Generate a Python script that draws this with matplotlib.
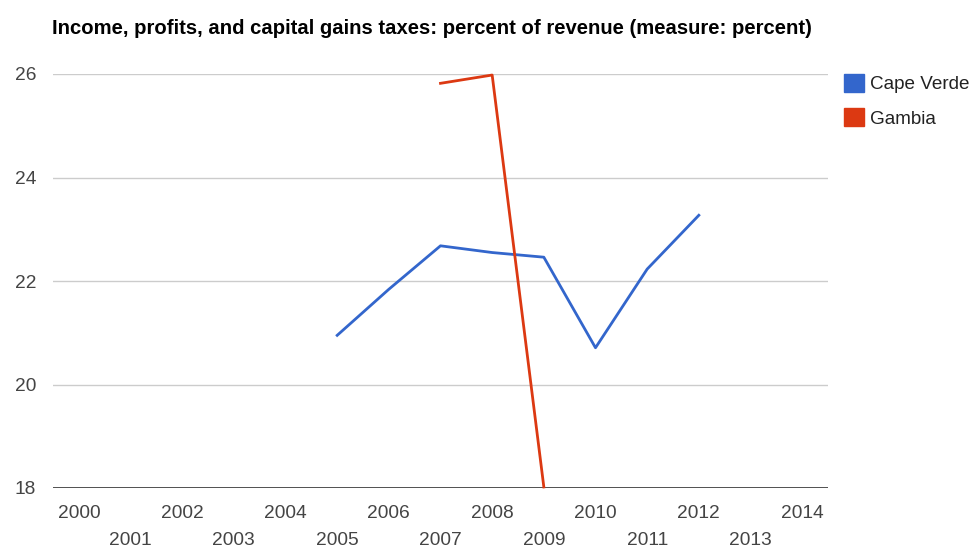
import numpy as np
import matplotlib
matplotlib.use('Agg')
import matplotlib.pyplot as plt
from matplotlib.patches import Patch

plt.rcParams['font.family'] = ['Liberation Sans', 'DejaVu Sans']

years = list(range(2000, 2015))
cape_verde_years = [2005, 2006, 2007, 2008, 2009, 2010, 2011, 2012]
cape_verde = [20.95, 21.84, 22.68, 22.55, 22.46, 20.71, 22.23, 23.27]
gambia_years = [2007, 2008, 2009]
gambia = [25.82, 25.98, 18.02]
y_ticks = [18, 20, 22, 24, 26]

blue = '#3366cc'
red = '#dc3912'
fnt = 13.8

fig = plt.figure(figsize=(9.74, 5.48), dpi=100)
ax = fig.add_axes([53/974, 1-488/548, 775/974, 414/548])

idx = {y: i for i, y in enumerate(years)}
ax.plot([idx[y] for y in cape_verde_years], cape_verde, color=blue, lw=2, clip_on=False, zorder=3)
ax.plot([idx[y] for y in gambia_years], gambia, color=red, lw=2, clip_on=False, zorder=3)

ax.set_xlim(-0.5, len(years)-0.5)
ax.set_ylim(18, 26)

# gridlines and baseline
ax.set_yticks(y_ticks)
ax.set_yticklabels([str(v) for v in y_ticks])
for v in y_ticks[1:]:
    ax.axhline(v, color='#cccccc', lw=1, zorder=1)
ax.axhline(18, color='#333333', lw=1.2, zorder=2)

for s in ax.spines.values():
    s.set_visible(False)

# even years on the first row, odd years on a second row
ax.set_xticks([i for i, y in enumerate(years) if y % 2 == 0])
ax.set_xticklabels([str(y) for y in years if y % 2 == 0])
ax.set_xticks([i for i, y in enumerate(years) if y % 2 == 1], minor=True)
ax.set_xticklabels([str(y) for y in years if y % 2 == 1], minor=True)

ax.tick_params(axis='x', which='major', length=0, pad=12, labelsize=fnt, labelcolor='#444444')
ax.tick_params(axis='x', which='minor', length=0, pad=32, labelsize=fnt, labelcolor='#444444')
ax.tick_params(axis='y', length=0, pad=12, labelsize=fnt, labelcolor='#444444')

fig.text(52/974, 1-28/548, 'Income, profits, and capital gains taxes: percent of revenue (measure: percent)',
         fontsize=14.6, fontweight='bold', color='#000000', ha='left', va='center')

handles = [Patch(facecolor=blue, edgecolor=blue), Patch(facecolor=red, edgecolor=red)]
fig.legend(handles, ['Cape Verde', 'Gambia'], loc='upper left', bbox_to_anchor=(844/974, 1-74/548),
           frameon=False, fontsize=13.6, handlelength=1.05, handleheight=1.05, handletextpad=0.35,
           labelspacing=0.8, labelcolor='#222222', borderaxespad=0, borderpad=0)

fig.savefig('out.png', dpi=100)
